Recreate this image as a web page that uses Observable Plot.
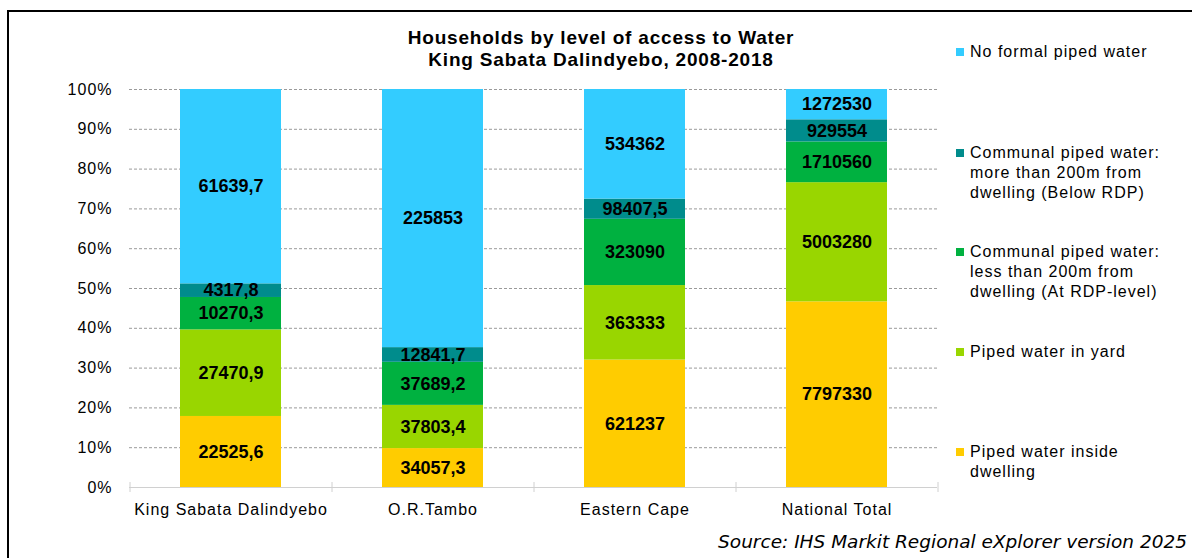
<!DOCTYPE html>
<html>
<head>
<meta charset="utf-8">
<script src="https://cdn.jsdelivr.net/npm/d3@7"></script>
<script src="https://cdn.jsdelivr.net/npm/@observablehq/plot@0.6"></script>
<style>
  html, body { margin: 0; padding: 0; background: #fff; width: 1192px; height: 558px; overflow: hidden; }
  #frame { position: absolute; left: 7px; top: 10px; width: 1250px; height: 600px; border: 2px solid #000; box-sizing: border-box; }
  #chart { position: absolute; left: 0; top: 0; }
  .title { position: absolute; left: 351px; width: 500px; text-align: center; font: bold 19px "Liberation Sans", Arial, sans-serif; letter-spacing: 0.8px; line-height: 22px; color: #000; }
  .legend-item { position: absolute; left: 956px; font: 16px "Liberation Sans", Arial, sans-serif; letter-spacing: 1px; line-height: 20px; color: #000; }
  .legend-item .sw { position: absolute; left: 0; top: 6px; width: 8px; height: 8px; }
  .legend-item .lbl { position: absolute; left: 14px; top: 0; white-space: nowrap; }
  #source { position: absolute; right: 5px; top: 531px; font: italic 18.5px "DejaVu Sans", Verdana, sans-serif; line-height: 22px; color: #000; white-space: nowrap; }
</style>
</head>
<body>
<div id="frame"></div>
<div id="chart"></div>
<div class="title" style="top:27px">Households by level of access to Water</div>
<div class="title" style="top:49px">King Sabata Dalindyebo, 2008-2018</div>
<div id="legend"></div>
<div id="source">Source: IHS Markit Regional eXplorer version 2025</div>
<script>
// ---- data ----
const regions = ["King Sabata Dalindyebo", "O.R.Tambo", "Eastern Cape", "National Total"];
const series = [
  "Piped water inside dwelling",
  "Piped water in yard",
  "Communal piped water: less than 200m from dwelling (At RDP-level)",
  "Communal piped water: more than 200m from dwelling (Below RDP)",
  "No formal piped water"
];
const pipedInside   = [22525.6, 34057.3, 621237, 7797330];
const pipedYard     = [27470.9, 37803.4, 363333, 5003280];
const communalLess  = [10270.3, 37689.2, 323090, 1710560];
const communalMore  = [4317.8, 12841.7, 98407.5, 929554];
const noFormal      = [61639.7, 225853, 534362, 1272530];
const yTicks = [0, 0.1, 0.2, 0.3, 0.4, 0.5, 0.6, 0.7, 0.8, 0.9, 1];
const colors = ["#FFCC00", "#99D600", "#00B140", "#008C8C", "#33CCFF"];

// legend display (top to bottom)
const legendItems = [
  {series: series[4], lines: ["No formal piped water"]},
  {series: series[3], lines: ["Communal piped water:", "more than 200m from", "dwelling (Below RDP)"]},
  {series: series[2], lines: ["Communal piped water:", "less than 200m from", "dwelling (At RDP-level)"]},
  {series: series[1], lines: ["Piped water in yard"]},
  {series: series[0], lines: ["Piped water inside", "dwelling"]}
];
const legendTops = [42, 143, 242, 342, 442];

const valuesBySeries = [pipedInside, pipedYard, communalLess, communalMore, noFormal];
const rows = [];
regions.forEach((r, i) => {
  series.forEach((s, j) => rows.push({region: r, series: s, value: valuesBySeries[j][i]}));
});
const fmt = v => String(v).replace(".", ",");

const chart = Plot.plot({
  width: 1192,
  height: 558,
  marginLeft: 129,
  marginRight: 255,
  marginTop: 89,
  marginBottom: 71,
  style: {fontFamily: "'Liberation Sans', Arial, sans-serif", fontSize: "16px", letterSpacing: "1px", color: "#000", background: "transparent"},
  x: {domain: regions, paddingInner: 0.5, paddingOuter: 0.25, label: null},
  y: {domain: [0, 1], label: null},
  color: {domain: series, range: colors},
  marks: [
    Plot.ruleY(yTicks.filter(d => d > 0), {stroke: "#9a9a9a", strokeDasharray: "3,2", strokeWidth: 1}),
    Plot.barY(rows, Plot.stackY({x: "region", y: "value", fill: "series", offset: "normalize"})),
    Plot.ruleY([0], {stroke: "#d0d0d0", strokeWidth: 1}),
    Plot.ruleX(regions, {x: d => d, y1: 0, y2: 0, dx: -101, insetTop: -5, insetBottom: -5, stroke: "#d0d0d0"}),
    Plot.ruleX(regions.slice(-1), {x: d => d, y1: 0, y2: 0, dx: 101, insetTop: -5, insetBottom: -5, stroke: "#d0d0d0"}),
    Plot.text(rows, Plot.stackY({x: "region", y: "value", z: "series", offset: "normalize", text: d => fmt(d.value), fontWeight: "bold", fontSize: 18, fill: "#000"})),
    Plot.axisY({ticks: yTicks, tickFormat: d3.format(".0%"), tickSize: 0, tickPadding: 17, label: null}),
    Plot.axisX({tickSize: 0, tickPadding: 16, label: null})
  ]
});
chart.querySelectorAll("text").forEach(t => {
  if (t.closest("g[aria-label='text']")) t.style.letterSpacing = "0px";
});
document.getElementById("chart").appendChild(chart);

const legend = document.getElementById("legend");
legendItems.forEach((it, k) => {
  const div = document.createElement("div");
  div.className = "legend-item";
  div.style.top = legendTops[k] + "px";
  const sw = document.createElement("div");
  sw.className = "sw";
  sw.style.background = colors[series.indexOf(it.series)];
  const lbl = document.createElement("div");
  lbl.className = "lbl";
  lbl.innerHTML = it.lines.join("<br>");
  div.appendChild(sw);
  div.appendChild(lbl);
  legend.appendChild(div);
});
</script>
</body>
</html>
